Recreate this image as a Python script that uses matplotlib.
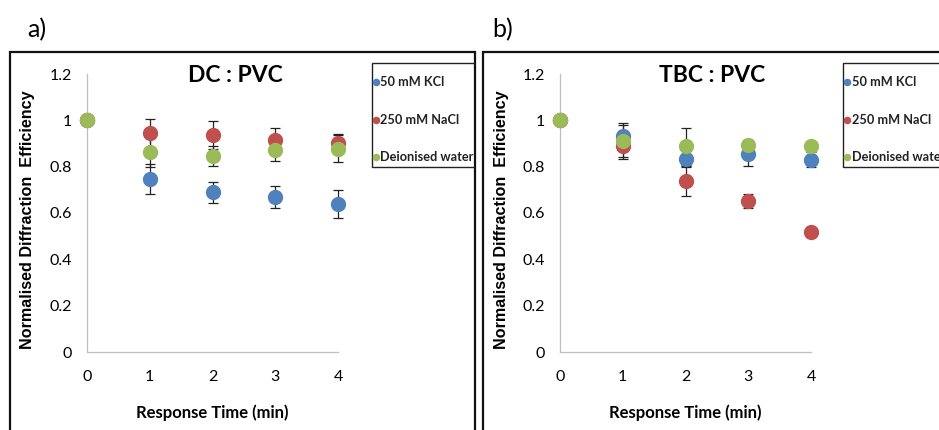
import numpy as np
import matplotlib.pyplot as plt
from matplotlib.patches import Rectangle
from matplotlib.lines import Line2D

W, H = 939, 430

times = [0, 1, 2, 3, 4]
series = ['50 mM KCl', '250 mM NaCl', 'Deionised water']
colors = ['#4F81BD', '#C0504D', '#9BBB59']

# a) DC : PVC
dc_kcl = [1.0, 0.747, 0.689, 0.670, 0.640]
dc_kcl_err = [0, 0.065, 0.045, 0.048, 0.060]
dc_nacl = [1.0, 0.946, 0.935, 0.915, 0.900]
dc_nacl_err = [0, 0.060, 0.060, 0.053, 0.040]
dc_water = [1.0, 0.863, 0.846, 0.873, 0.878]
dc_water_err = [0, 0.066, 0.045, 0.047, 0.058]

# b) TBC : PVC
tbc_kcl = [1.0, 0.934, 0.833, 0.855, 0.830]
tbc_kcl_err = [0, 0.055, 0.036, 0.050, 0.033]
tbc_nacl = [1.0, 0.889, 0.739, 0.653, 0.519]
tbc_nacl_err = [0, 0.056, 0.065, 0.030, 0.0]
tbc_water = [1.0, 0.912, 0.889, 0.893, 0.889]
tbc_water_err = [0, 0.070, 0.080, 0.020, 0.015]

yticks = [0, 0.2, 0.4, 0.6, 0.8, 1.0, 1.2]
ylabels = ['0', '0.2', '0.4', '0.6', '0.8', '1', '1.2']

CAL = ['Lato', 'DejaVu Sans']
ARIAL = ['Liberation Sans', 'DejaVu Sans']


def fx(x):
    return x / W


def fy(y):
    return 1 - y / H


fig = plt.figure(figsize=(W / 100, H / 100), dpi=100)


def panel(box, ax_rect, title, title_x, tag, tag_x, leg_x, data):
    x0, y0, x1 = box
    border = Rectangle((fx(x0), -0.1), fx(x1) - fx(x0), fy(y0) + 0.1,
                       transform=fig.transFigure, fill=False,
                       edgecolor='#111111', linewidth=1.6)
    fig.add_artist(border)

    fig.text(fx(tag_x), fy(30), tag, fontsize=18, family=CAL,
             ha='left', va='center')

    l, t, r, b = ax_rect
    ax = fig.add_axes([fx(l), fy(b), fx(r) - fx(l), fy(t) - fy(b)])
    for (vals, errs), c in zip(data, colors):
        ax.errorbar(times, vals, yerr=errs, fmt='none', ecolor='#222222',
                    elinewidth=0.9, capsize=3.5, capthick=0.9,
                    zorder=2, clip_on=False)
    for (vals, errs), c in zip(data, colors):
        ax.plot(times, vals, 'o', color=c, markersize=10, zorder=3,
                clip_on=False)
    ax.set_xlim(0, 4)
    ax.set_ylim(0, 1.2)
    ax.set_xticks(times)
    ax.set_yticks(yticks)
    ax.set_yticklabels(ylabels)
    ax.tick_params(length=0, labelsize=11.5)
    ax.tick_params(axis='x', pad=13)
    ax.tick_params(axis='y', pad=11)
    for lab in ax.get_xticklabels() + ax.get_yticklabels():
        lab.set_family(CAL)
    for s in ['top', 'right']:
        ax.spines[s].set_visible(False)
    for s in ['left', 'bottom']:
        ax.spines[s].set_color('#BFBFBF')
        ax.spines[s].set_linewidth(0.9)
    ax.patch.set_alpha(0)

    ax.set_xlabel('Response Time (min)', fontsize=12, family=CAL,
                  fontweight='bold', labelpad=15)
    fig.text(fx(l - 59), fy(220), 'Normalised Diffraction  Efficiency',
             rotation=90, fontsize=11.6, family=ARIAL, fontweight='bold',
             ha='center', va='center')
    fig.text(fx(title_x), fy(76), title, fontsize=16.5, family=CAL,
             fontweight='bold', ha='center', va='center')

    # legend box clipped at the panel edge
    lb = Rectangle((fx(leg_x), fy(167)), 0.3, fy(63) - fy(167),
                   transform=fig.transFigure, fill=False,
                   edgecolor='#222222', linewidth=1.0)
    fig.add_artist(lb)
    lb.set_clip_path(border)
    for name, c, ry in zip(series, colors, [82, 120, 157]):
        m = Line2D([fx(leg_x + 3.8)], [fy(ry)], marker='o', color=c,
                   markersize=4.4, linestyle='none',
                   transform=fig.transFigure)
        fig.add_artist(m)
        txt = fig.text(fx(leg_x + 8.5), fy(ry), name, fontsize=9.2,
                       family=CAL, fontweight='bold', ha='left',
                       va='center', color='#222222')
        txt.set_clip_path(border)
    return ax


panel((10, 52, 475), (87, 74, 338, 352), 'DC : PVC', 235, 'a)', 27, 372,
      [(dc_kcl, dc_kcl_err), (dc_nacl, dc_nacl_err),
       (dc_water, dc_water_err)])
panel((483, 52, 1000), (560, 74, 811, 352), 'TBC : PVC', 712, 'b)', 492, 843,
      [(tbc_kcl, tbc_kcl_err), (tbc_nacl, tbc_nacl_err),
       (tbc_water, tbc_water_err)])

fig.savefig('out.png', dpi=100)
